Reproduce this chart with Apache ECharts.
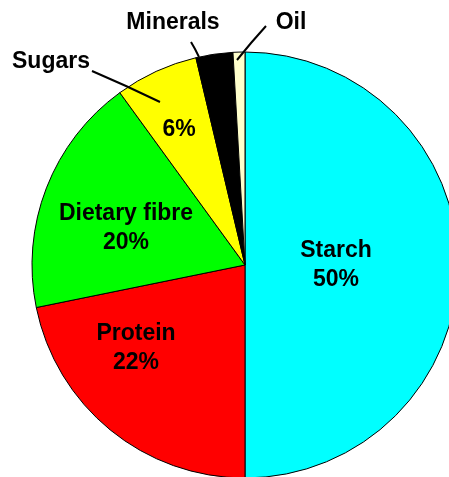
<!DOCTYPE html>
<html>
<head>
<meta charset="utf-8">
<script src="https://cdn.jsdelivr.net/npm/echarts@6/dist/echarts.min.js"></script>
<style>html,body{margin:0;padding:0;background:#fff;}#c{width:449px;height:477px;}</style>
</head>
<body>
<div id="c"></div>
<script>
const categories = ['Starch', 'Protein', 'Dietary fibre', 'Sugars', 'Minerals', 'Oil'];
const values = [50, 21.8, 18.2, 6.3, 2.8, 0.9];
const pctLabels = ['50%', '22%', '20%', '6%', '', ''];
const colors = ['#00FFFF', '#FF0000', '#00FF00', '#FFFF00', '#000000', '#FFFFCC'];

const font = { color: '#000', fontWeight: 'bold', fontFamily: '"Liberation Sans", Arial, sans-serif', fontSize: 23, lineHeight: 29 };

// label placement (style only)
const innerPos = { 0: [336, 265], 1: [136, 348], 2: [126, 228], 3: [179, 130] };
const outerPos = {
  3: { x: 51, y: 62, line: [[160, 102], [126, 86], [92, 71]] },
  4: { x: 173, y: 23, line: [[199, 57], [195, 49], [191, 42]] },
  5: { x: 291, y: 23, line: [[237, 60], [251, 43], [266, 26]] }
};

const chart = echarts.init(document.getElementById('c'));
const base = {
  type: 'pie',
  center: [245, 265],
  radius: 213,
  startAngle: 90,
  clockwise: true,
  animation: false,
  silent: true,
  avoidLabelOverlap: false
};
chart.setOption({
  backgroundColor: '#fff',
  series: [
    Object.assign({}, base, {
      z: 2,
      data: categories.map((c, i) => ({ name: c, value: values[i], itemStyle: { color: colors[i] } })),
      itemStyle: { borderColor: '#000', borderWidth: 1 },
      label: Object.assign({
        show: true, position: 'inside', align: 'center',
        formatter: p => {
          const i = p.dataIndex;
          if (i === 3) return pctLabels[i];
          if (!pctLabels[i]) return '';
          return categories[i] + '\n' + pctLabels[i];
        }
      }, font),
      labelLine: { show: false },
      labelLayout: p => {
        const pos = innerPos[p.dataIndex];
        if (!pos) return {};
        return { x: pos[0], y: pos[1], align: 'center', verticalAlign: 'middle' };
      }
    }),
    Object.assign({}, base, {
      z: 10,
      data: categories.map((c, i) => ({
        name: c, value: values[i],
        label: { show: !!outerPos[i] },
        labelLine: { show: !!outerPos[i] }
      })),
      itemStyle: { color: 'rgba(0,0,0,0)', borderWidth: 0 },
      label: Object.assign({ show: true, position: 'outside', formatter: '{b}' }, font),
      labelLine: { show: true, showAbove: true, lineStyle: { color: '#000', width: 2 } },
      labelLayout: p => {
        const o = outerPos[p.dataIndex];
        if (!o) return {};
        return { x: o.x, y: o.y, align: 'center', verticalAlign: 'middle', labelLinePoints: o.line };
      }
    })
  ]
});
</script>
</body>
</html>
